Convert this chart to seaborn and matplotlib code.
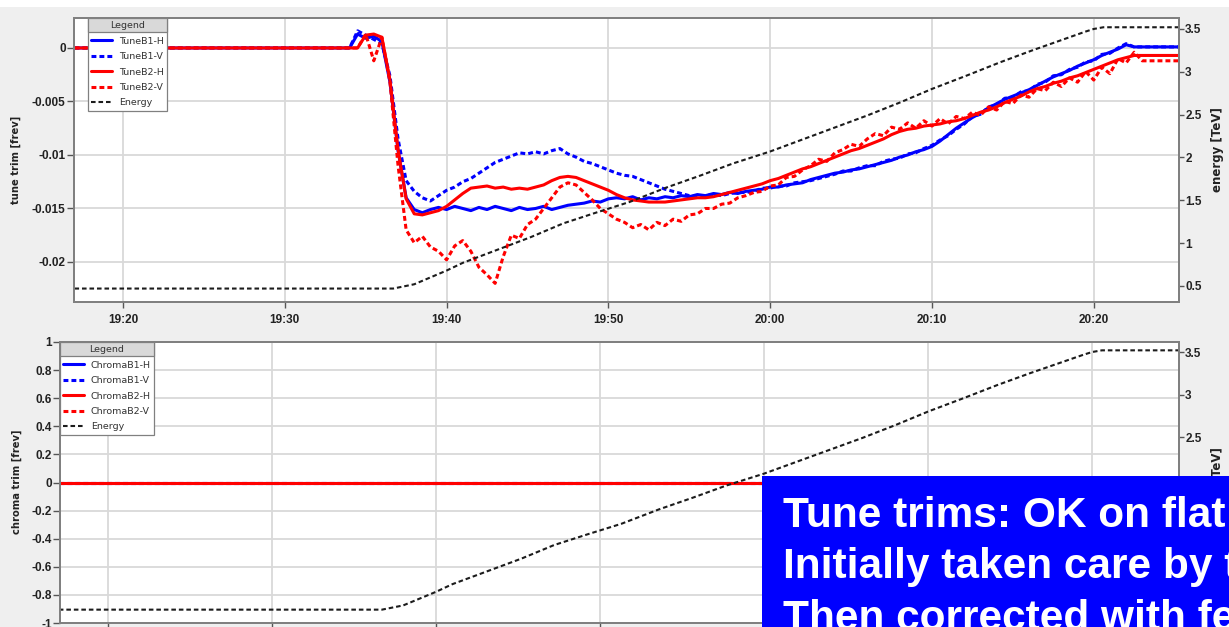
import matplotlib
matplotlib.use("Agg")
import matplotlib.pyplot as plt
import seaborn as sns
from matplotlib.patches import Rectangle

# ---------------- data (time = minutes after 19:00) ----------------
time_min = [17.0, 34.0, 34.5, 35.0, 35.5, 36.0, 36.5, 37.0, 37.5, 38.0,
            38.5, 39.0, 39.5, 40.0, 40.5, 41.0, 41.5, 42.0, 42.5, 43.0,
            43.5, 44.0, 44.5, 45.0, 45.5, 46.0, 46.5, 47.0, 47.5, 48.0,
            48.5, 49.0, 49.5, 50.0, 50.5, 51.0, 51.5, 52.0, 52.5, 53.0,
            53.5, 54.0, 54.5, 55.0, 55.5, 56.0, 56.5, 57.0, 57.5, 58.0,
            58.5, 59.0, 59.5, 60.0, 60.5, 61.0, 61.5, 62.0, 62.5, 63.0,
            63.5, 64.0, 64.5, 65.0, 65.5, 66.0, 66.5, 67.0, 67.5, 68.0,
            68.5, 69.0, 69.5, 70.0, 70.5, 71.0, 71.5, 72.0, 72.5, 73.0,
            73.5, 74.0, 74.5, 75.0, 75.5, 76.0, 76.5, 77.0, 77.5, 78.0,
            78.5, 79.0, 79.5, 80.0, 80.5, 81.0, 81.5, 82.0, 82.5, 83.0,
            85.3]

tune_b1_h = [0.0, 0.0, 0.0013, 0.0009, 0.0011, 0.0006, -0.0032, -0.0096, -0.0140, -0.0151,
             -0.0154, -0.0151, -0.0149, -0.0151, -0.0148, -0.0150, -0.0152, -0.0149, -0.0151, -0.0148,
             -0.0150, -0.0152, -0.0149, -0.0151, -0.0150, -0.0148, -0.0151, -0.0149, -0.0147, -0.0146,
             -0.0145, -0.0143, -0.0144, -0.0141, -0.0140, -0.0141, -0.0139, -0.0142, -0.0140, -0.0141,
             -0.0139, -0.0140, -0.0138, -0.0139, -0.0137, -0.0138, -0.0136, -0.0137, -0.0135, -0.0136,
             -0.0134, -0.0133, -0.0132, -0.0130, -0.0130, -0.0128, -0.0127, -0.0126, -0.0123, -0.0121,
             -0.0119, -0.0117, -0.0116, -0.0114, -0.0113, -0.0111, -0.0109, -0.0107, -0.0105, -0.0102,
             -0.0100, -0.0097, -0.0095, -0.0092, -0.0087, -0.0081, -0.0075, -0.0070, -0.0065, -0.0061,
             -0.0056, -0.0052, -0.0048, -0.0045, -0.0042, -0.0039, -0.0035, -0.0031, -0.0027, -0.0024,
             -0.0021, -0.0017, -0.0014, -0.0011, -0.0007, -0.0004, -0.0001, 0.0003, 0.0001, 0.0001,
             0.0001]

tune_b1_v = [0.0, 0.0, 0.0016, 0.0012, 0.0008, 0.0004, -0.0026, -0.0085, -0.0124, -0.0134,
             -0.0140, -0.0143, -0.0138, -0.0133, -0.0130, -0.0125, -0.0122, -0.0117, -0.0112, -0.0107,
             -0.0104, -0.0101, -0.0098, -0.0099, -0.0097, -0.0099, -0.0096, -0.0094, -0.0099, -0.0102,
             -0.0106, -0.0108, -0.0111, -0.0114, -0.0117, -0.0119, -0.0120, -0.0123, -0.0126, -0.0129,
             -0.0132, -0.0134, -0.0136, -0.0138, -0.0139, -0.0138, -0.0137, -0.0138, -0.0136, -0.0135,
             -0.0135, -0.0134, -0.0131, -0.0131, -0.0129, -0.0129, -0.0126, -0.0125, -0.0124, -0.0122,
             -0.0120, -0.0118, -0.0115, -0.0115, -0.0112, -0.0110, -0.0110, -0.0106, -0.0104, -0.0103,
             -0.0099, -0.0098, -0.0094, -0.0091, -0.0086, -0.0082, -0.0076, -0.0071, -0.0064, -0.0062,
             -0.0055, -0.0053, -0.0047, -0.0046, -0.0041, -0.0040, -0.0034, -0.0032, -0.0026, -0.0025,
             -0.0020, -0.0018, -0.0013, -0.0012, -0.0006, -0.0005, 0.0000, 0.0004, 0.0001, 0.0001,
             0.0001]

tune_b2_h = [0.0, 0.0, 0.0000, 0.0012, 0.0013, 0.0010, -0.0030, -0.0095, -0.0141, -0.0155,
             -0.0156, -0.0154, -0.0152, -0.0148, -0.0142, -0.0136, -0.0131, -0.0130, -0.0129, -0.0131,
             -0.0130, -0.0132, -0.0131, -0.0132, -0.0130, -0.0128, -0.0124, -0.0121, -0.0120, -0.0121,
             -0.0124, -0.0127, -0.0130, -0.0133, -0.0137, -0.0140, -0.0142, -0.0143, -0.0144, -0.0144,
             -0.0144, -0.0143, -0.0142, -0.0141, -0.0140, -0.0140, -0.0139, -0.0137, -0.0135, -0.0133,
             -0.0131, -0.0129, -0.0127, -0.0124, -0.0122, -0.0119, -0.0116, -0.0113, -0.0111, -0.0108,
             -0.0105, -0.0102, -0.0099, -0.0096, -0.0094, -0.0091, -0.0088, -0.0085, -0.0081, -0.0078,
             -0.0076, -0.0075, -0.0073, -0.0072, -0.0071, -0.0069, -0.0068, -0.0066, -0.0063, -0.0060,
             -0.0058, -0.0055, -0.0051, -0.0048, -0.0045, -0.0041, -0.0038, -0.0036, -0.0033, -0.0031,
             -0.0028, -0.0026, -0.0023, -0.0020, -0.0017, -0.0014, -0.0011, -0.0009, -0.0007, -0.0007,
             -0.0007]

tune_b2_v = [0.0, 0.0, 0.0000, 0.0013, -0.0012, 0.0010, -0.0032, -0.0110, -0.0170, -0.0182,
             -0.0176, -0.0186, -0.0190, -0.0198, -0.0185, -0.0180, -0.0190, -0.0205, -0.0212, -0.0220,
             -0.0195, -0.0175, -0.0178, -0.0165, -0.0160, -0.0150, -0.0140, -0.0130, -0.0126, -0.0128,
             -0.0135, -0.0142, -0.0150, -0.0155, -0.0160, -0.0163, -0.0168, -0.0165, -0.0170, -0.0163,
             -0.0166, -0.0160, -0.0162, -0.0156, -0.0155, -0.0150, -0.0150, -0.0146, -0.0145, -0.0140,
             -0.0138, -0.0135, -0.0134, -0.0129, -0.0128, -0.0121, -0.0120, -0.0114, -0.0110, -0.0104,
             -0.0106, -0.0098, -0.0095, -0.0090, -0.0092, -0.0085, -0.0080, -0.0082, -0.0074, -0.0076,
             -0.0070, -0.0075, -0.0068, -0.0073, -0.0066, -0.0071, -0.0064, -0.0066, -0.0060, -0.0063,
             -0.0055, -0.0058, -0.0050, -0.0052, -0.0044, -0.0046, -0.0038, -0.0040, -0.0032, -0.0036,
             -0.0028, -0.0032, -0.0022, -0.0030, -0.0018, -0.0024, -0.0010, -0.0014, -0.0004, -0.0012,
             -0.0012]

energy_time = [17.0, 36.7, 38.0, 39.0, 40.0, 41.0, 43.1, 45.2, 47.2, 49.3,
               51.3, 53.6, 55.7, 57.7, 60.0, 62.0, 64.0, 66.0, 68.0, 70.0,
               72.2, 74.2, 76.2, 78.3, 79.5, 80.0, 80.6, 85.3]
energy_tev = [0.47, 0.47, 0.52, 0.60, 0.68, 0.77, 0.92, 1.07, 1.23, 1.36,
              1.48, 1.65, 1.79, 1.93, 2.07, 2.21, 2.35, 2.49, 2.64, 2.80,
              2.96, 3.11, 3.25, 3.39, 3.47, 3.50, 3.52, 3.52]

chroma_time = [17.0, 85.3]
chroma_b1_h = [0.0, 0.0]
chroma_b1_v = [0.0, 0.0]
chroma_b2_h = [0.0, 0.0]
chroma_b2_v = [0.0, 0.0]

x_tick_minutes = [20, 30, 40, 50, 60, 70, 80]
x_tick_labels = ["19:20", "19:30", "19:40", "19:50", "20:00", "20:10", "20:20"]
tune_ticks = [0.0, -0.005, -0.01, -0.015, -0.02]
tune_tick_labels = ["0", "-0.005", "-0.01", "-0.015", "-0.02"]
chroma_ticks = [1.0, 0.8, 0.6, 0.4, 0.2, 0.0, -0.2, -0.4, -0.6, -0.8, -1.0]
chroma_tick_labels = ["1", "0.8", "0.6", "0.4", "0.2", "0", "-0.2", "-0.4", "-0.6", "-0.8", "-1"]
energy_ticks = [0.5, 1.0, 1.5, 2.0, 2.5, 3.0, 3.5]
energy_tick_labels = ["0.5", "1", "1.5", "2", "2.5", "3", "3.5"]

tune_names = ["TuneB1-H", "TuneB1-V", "TuneB2-H", "TuneB2-V", "Energy"]
chroma_names = ["ChromaB1-H", "ChromaB1-V", "ChromaB2-H", "ChromaB2-V", "Energy"]

note_lines = ["Tune trims: OK on flat top",
              "Initially taken care by the tune feedback",
              "Then corrected with feed-forward"]

# ---------------- style ----------------
sns.set_theme(style="white")
plt.rcParams['font.family'] = ['DejaVu Sans']

W, H = 1229, 627
BLUE, RED, BLACK = '#0000ff', '#ff0000', '#1c1c1c'
fig = plt.figure(figsize=(W / 100, H / 100), dpi=100, facecolor='#efefef')


def fx(px):
    return px / W


def fy(py):
    return 1 - py / H


fig.add_artist(Rectangle((0, fy(7)), 1, 7 / H, transform=fig.transFigure,
                         facecolor='white', edgecolor='none', zorder=0))

ax_t = fig.add_axes([fx(74), fy(302), fx(1179) - fx(74), fy(18) - fy(302)])
ax_b = fig.add_axes([fx(60), fy(623), fx(1179) - fx(60), fy(342) - fy(623)])
ax_t2 = ax_t.twinx()
ax_b2 = ax_b.twinx()


def draw(ax, x, y, color, dashed, label, lw=2.2, dash=(1.6, 1.0)):
    sns.lineplot(x=x, y=y, ax=ax, color=color, linewidth=lw, label=label,
                 estimator=None, sort=False, legend=False)
    line = ax.get_lines()[-1]
    if dashed:
        line.set_dashes(dash)
    return line


def build(ax, ax2, t, series, names):
    styles = [(BLUE, False), (BLUE, True), (RED, False), (RED, True)]
    order = [0, 1, 3, 2]
    lines = {}
    for i in order:
        c, d = styles[i]
        lines[i] = draw(ax, t, series[i], c, d, names[i])
    handles = [lines[i] for i in range(4)]
    e = draw(ax2, energy_time, energy_tev, BLACK, True, names[4], lw=1.5, dash=(2.2, 1.4))
    handles.append(e)
    return handles


h_top = build(ax_t, ax_t2, time_min, [tune_b1_h, tune_b1_v, tune_b2_h, tune_b2_v], tune_names)
h_bot = build(ax_b, ax_b2, chroma_time, [chroma_b1_h, chroma_b1_v, chroma_b2_h, chroma_b2_v], chroma_names)


def style(ax, ax2, xlim, ylim, yticks, ylabels, elim, show_x):
    ax.set_xlim(*xlim)
    ax.set_ylim(*ylim)
    ax.set_xticks(x_tick_minutes)
    ax.set_xticklabels(x_tick_labels if show_x else [''] * len(x_tick_minutes))
    ax.set_yticks(yticks)
    ax.set_yticklabels(ylabels)
    ax.set_facecolor('white')
    ax.grid(True, color='#d9d9d9', linewidth=1.3)
    ax.set_axisbelow(True)
    ax.tick_params(axis='y', left=True, direction='out', length=5, width=1,
                   color='#555555', pad=1, labelsize=8.5, labelcolor='#222222')
    ax.tick_params(axis='x', bottom=True, direction='out', length=4.5, width=1,
                   color='#555555', pad=4, labelsize=8.5, labelcolor='#222222')
    for s in list(ax.spines.values()) + list(ax2.spines.values()):
        s.set_color('#808080')
        s.set_linewidth(1.4)
    ax2.set_ylim(*elim)
    ax2.set_yticks(energy_ticks)
    ax2.set_yticklabels(energy_tick_labels)
    ax2.tick_params(axis='y', left=False, right=True, labelleft=False, labelright=True,
                    direction='out', length=3.5, width=1, color='#555555', pad=1,
                    labelsize=8.5, labelcolor='#222222')
    ax2.grid(False)
    ax.set_xlabel('')
    ax.set_ylabel('')
    ax2.set_ylabel('')
    ax2.set_xlabel('')
    for lab in ax.get_xticklabels() + ax.get_yticklabels() + ax2.get_yticklabels():
        lab.set_fontweight('bold')
        lab.set_fontfamily(['Liberation Sans', 'DejaVu Sans'])


style(ax_t, ax_t2, (16.97, 85.27), (-0.02374, 0.0028), tune_ticks, tune_tick_labels, (0.313, 3.628), True)
style(ax_b, ax_b2, (17.07, 85.3), (-1.0, 1.0), chroma_ticks, chroma_tick_labels, (0.313, 3.618), False)

# right-hand energy labels of the lower chart that lie under the note box
for lab, val in zip(ax_b2.get_yticklabels(), energy_ticks):
    if val < 2.2:
        lab.set_visible(False)

legs = []
for ax2, handles, names, x0 in [(ax_t2, h_top, tune_names, (88 - 74) / (1179 - 74)),
                                (ax_b2, h_bot, chroma_names, 0.0)]:
    leg = ax2.legend(handles=handles, labels=names, title="Legend", loc='upper left',
                     bbox_to_anchor=(x0, 1.0), borderaxespad=0, fontsize=6.8, title_fontsize=6.8,
                     frameon=True, fancybox=False, framealpha=1, edgecolor='#808080',
                     handlelength=2.2, handletextpad=0.7, labelspacing=0.68, borderpad=0.35)
    leg.get_frame().set_linewidth(0.9)
    for t in leg.get_texts():
        t.set_color('#333333')
    legs.append((ax2, leg))

fig.canvas.draw()
r = fig.canvas.get_renderer()
inv = fig.transFigure.inverted()
for ax2, leg in legs:
    lb = leg.get_window_extent(r)
    tb = leg.get_title().get_window_extent(r)
    x0, y0 = inv.transform((lb.x0, tb.y0 - 2))
    x1, y1 = inv.transform((lb.x1, lb.y1))
    ax2.add_artist(Rectangle((x0, y0), x1 - x0, y1 - y0, transform=fig.transFigure,
                             facecolor='#d9d9d9', edgecolor='#808080', linewidth=0.9,
                             zorder=10, clip_on=False))
    ax2.text((x0 + x1) / 2, (y0 + y1) / 2, "Legend", transform=fig.transFigure,
             ha='center', va='center', fontsize=6.8, color='#333333', zorder=11)

# axis titles
lab_kw = dict(rotation=90, ha='center', va='center', fontweight='bold', color='#222222')
fig.text(fx(16), fy(160), "tune trim [frev]", fontsize=7.2, **lab_kw)
fig.text(fx(17), fy(482), "chroma trim [frev]", fontsize=7.2, **lab_kw)
fig.text(fx(1218), fy(150), "energy [TeV]", fontsize=8.5, **lab_kw)
fig.text(fx(1218), fy(490), "energy [TeV]", fontsize=8.5, **lab_kw)

# blue annotation box
fig.add_artist(Rectangle((fx(762), 0), 1 - fx(762), fy(476), transform=fig.transFigure,
                         facecolor='#0000ff', edgecolor='none', zorder=20))
for line, base in zip(note_lines, [527, 578, 630]):
    fig.text(fx(783), fy(base), line, ha='left', va='baseline', fontsize=30.5,
             fontweight='bold', color='white', family=['Liberation Sans', 'DejaVu Sans'],
             zorder=21)

fig.savefig("out.png", dpi=100, facecolor=fig.get_facecolor())
